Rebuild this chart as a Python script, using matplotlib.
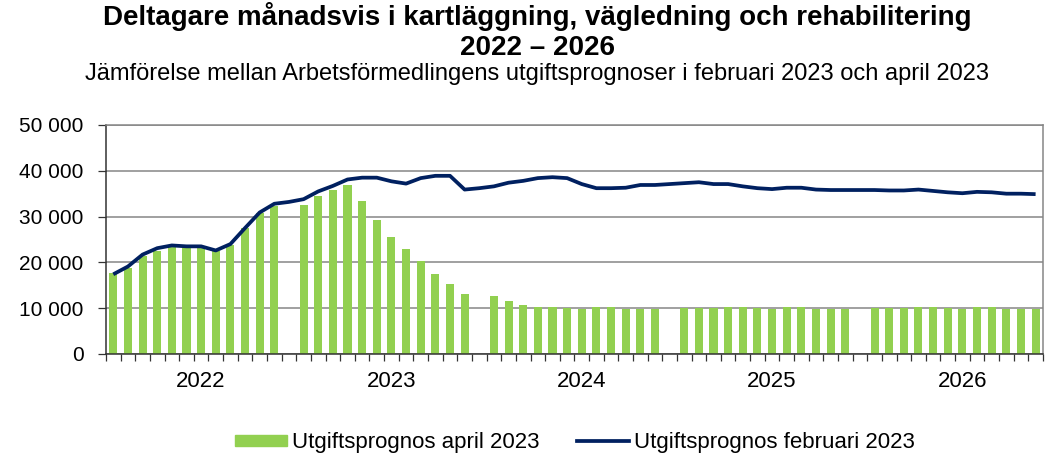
"""
Deltagare månadsvis i kartläggning, vägledning och rehabilitering 2022-2026
"""
import numpy as np
import matplotlib
matplotlib.use("Agg")
import matplotlib.pyplot as plt
from matplotlib.patches import Patch
from matplotlib.lines import Line2D
from matplotlib.ticker import FuncFormatter

plt.rcParams["font.family"] = ["Liberation Sans", "DejaVu Sans"]

# 64 kategorier: 12 månader + en tom plats per år (sista året utan)
years = ["2022", "2023", "2024", "2025", "2026"]
year_centers = [6.5, 19.5, 32.5, 45.5, 58.5]

prognos_april = [
    17600, 18700, 21300, 22400, 23300, 23100, 23100, 22400, 23800, 27400, 30700, 32400, None,
    32600, 34600, 35800, 36900, 33500, 29300, 25500, 23000, 20300, 17500, 15300, 13200, None,
    12700, 11600, 10600, 10200, 10300, 10000, 9800, 10200, 10200, 9800, 9800, 9800, None,
    10000, 10000, 10000, 10200, 10200, 10000, 9800, 10200, 10200, 9800, 9800, 9800, None,
    10000, 10000, 10000, 10200, 10300, 10000, 9800, 10200, 10200, 9800, 9800, 9800,
]

prognos_februari = [
    17400, 19100, 21700, 23100, 23700, 23500, 23500, 22600, 24000, 27500, 30900, 32800, 33200,
    33800, 35500, 36700, 38100, 38500, 38500, 37700, 37200, 38400, 38900, 38900, 35900, 36200,
    36600, 37400, 37800, 38400, 38600, 38400, 37100, 36200, 36200, 36300, 36900, 36900, 37100,
    37300, 37500, 37100, 37100, 36600, 36200, 36000, 36300, 36300, 35900, 35800, 35800, 35800,
    35800, 35700, 35700, 35900, 35600, 35300, 35100, 35400, 35300, 35000, 35000, 34900,
]

GREEN = "#92D050"
NAVY = "#002060"
GRID = "#868686"

n = len(prognos_februari)
x = np.arange(n) + 0.5
bars = np.array([np.nan if v is None else v for v in prognos_april], dtype=float)

fig = plt.figure(figsize=(10.45, 4.59), dpi=100)
ax = fig.add_axes([0.1014, 0.2288, 0.8966, 0.4989])

ax.bar(x, bars, width=0.55, color=GREEN, zorder=2)
ax.plot(x, prognos_februari, color=NAVY, lw=2.7, zorder=3, solid_capstyle="butt")

ax.set_xlim(0, n)
ax.set_ylim(0, 50000)
ax.set_yticks(np.arange(0, 50001, 10000))
ax.yaxis.set_major_formatter(FuncFormatter(lambda v, p: f"{int(v):,}".replace(",", " ")))
ax.grid(axis="y", color=GRID, lw=1.1, zorder=1)
ax.set_axisbelow(True)

ax.set_xticks(np.arange(0, n + 1))
ax.set_xticklabels([])
ax.tick_params(axis="x", length=5, width=0.9, color="#333333")
ax.tick_params(axis="y", length=6, width=0.9, color="#333333", labelsize=15, pad=10)

for sp in ["top", "right"]:
    ax.spines[sp].set_color(GRID)
    ax.spines[sp].set_linewidth(1.1)
for sp in ["left", "bottom"]:
    ax.spines[sp].set_color("#333333")
    ax.spines[sp].set_linewidth(1.1)

for yr, c in zip(years, year_centers):
    ax.text(c, -0.075, yr, transform=ax.get_xaxis_transform(), ha="center", va="top", fontsize=16)

fig.text(0.514, 0.963, "Deltagare månadsvis i kartläggning, vägledning och rehabilitering",
         ha="center", va="center", fontsize=20, fontweight="bold")
fig.text(0.514, 0.896, "2022 – 2026", ha="center", va="center", fontsize=20, fontweight="bold")
fig.text(0.514, 0.839, "Jämförelse mellan Arbetsförmedlingens utgiftsprognoser i februari 2023 och april 2023",
         ha="center", va="center", fontsize=17)

handles = [Patch(color=GREEN, label="Utgiftsprognos april 2023"),
           Line2D([], [], color=NAVY, lw=2.7, label="Utgiftsprognos februari 2023")]
fig.legend(handles=handles, ncol=2, loc="center", bbox_to_anchor=(0.55, 0.035), frameon=False,
           fontsize=16, handlelength=2.35, handleheight=0.45, handletextpad=0.2, columnspacing=1.7)

fig.savefig("out.png", dpi=100)
